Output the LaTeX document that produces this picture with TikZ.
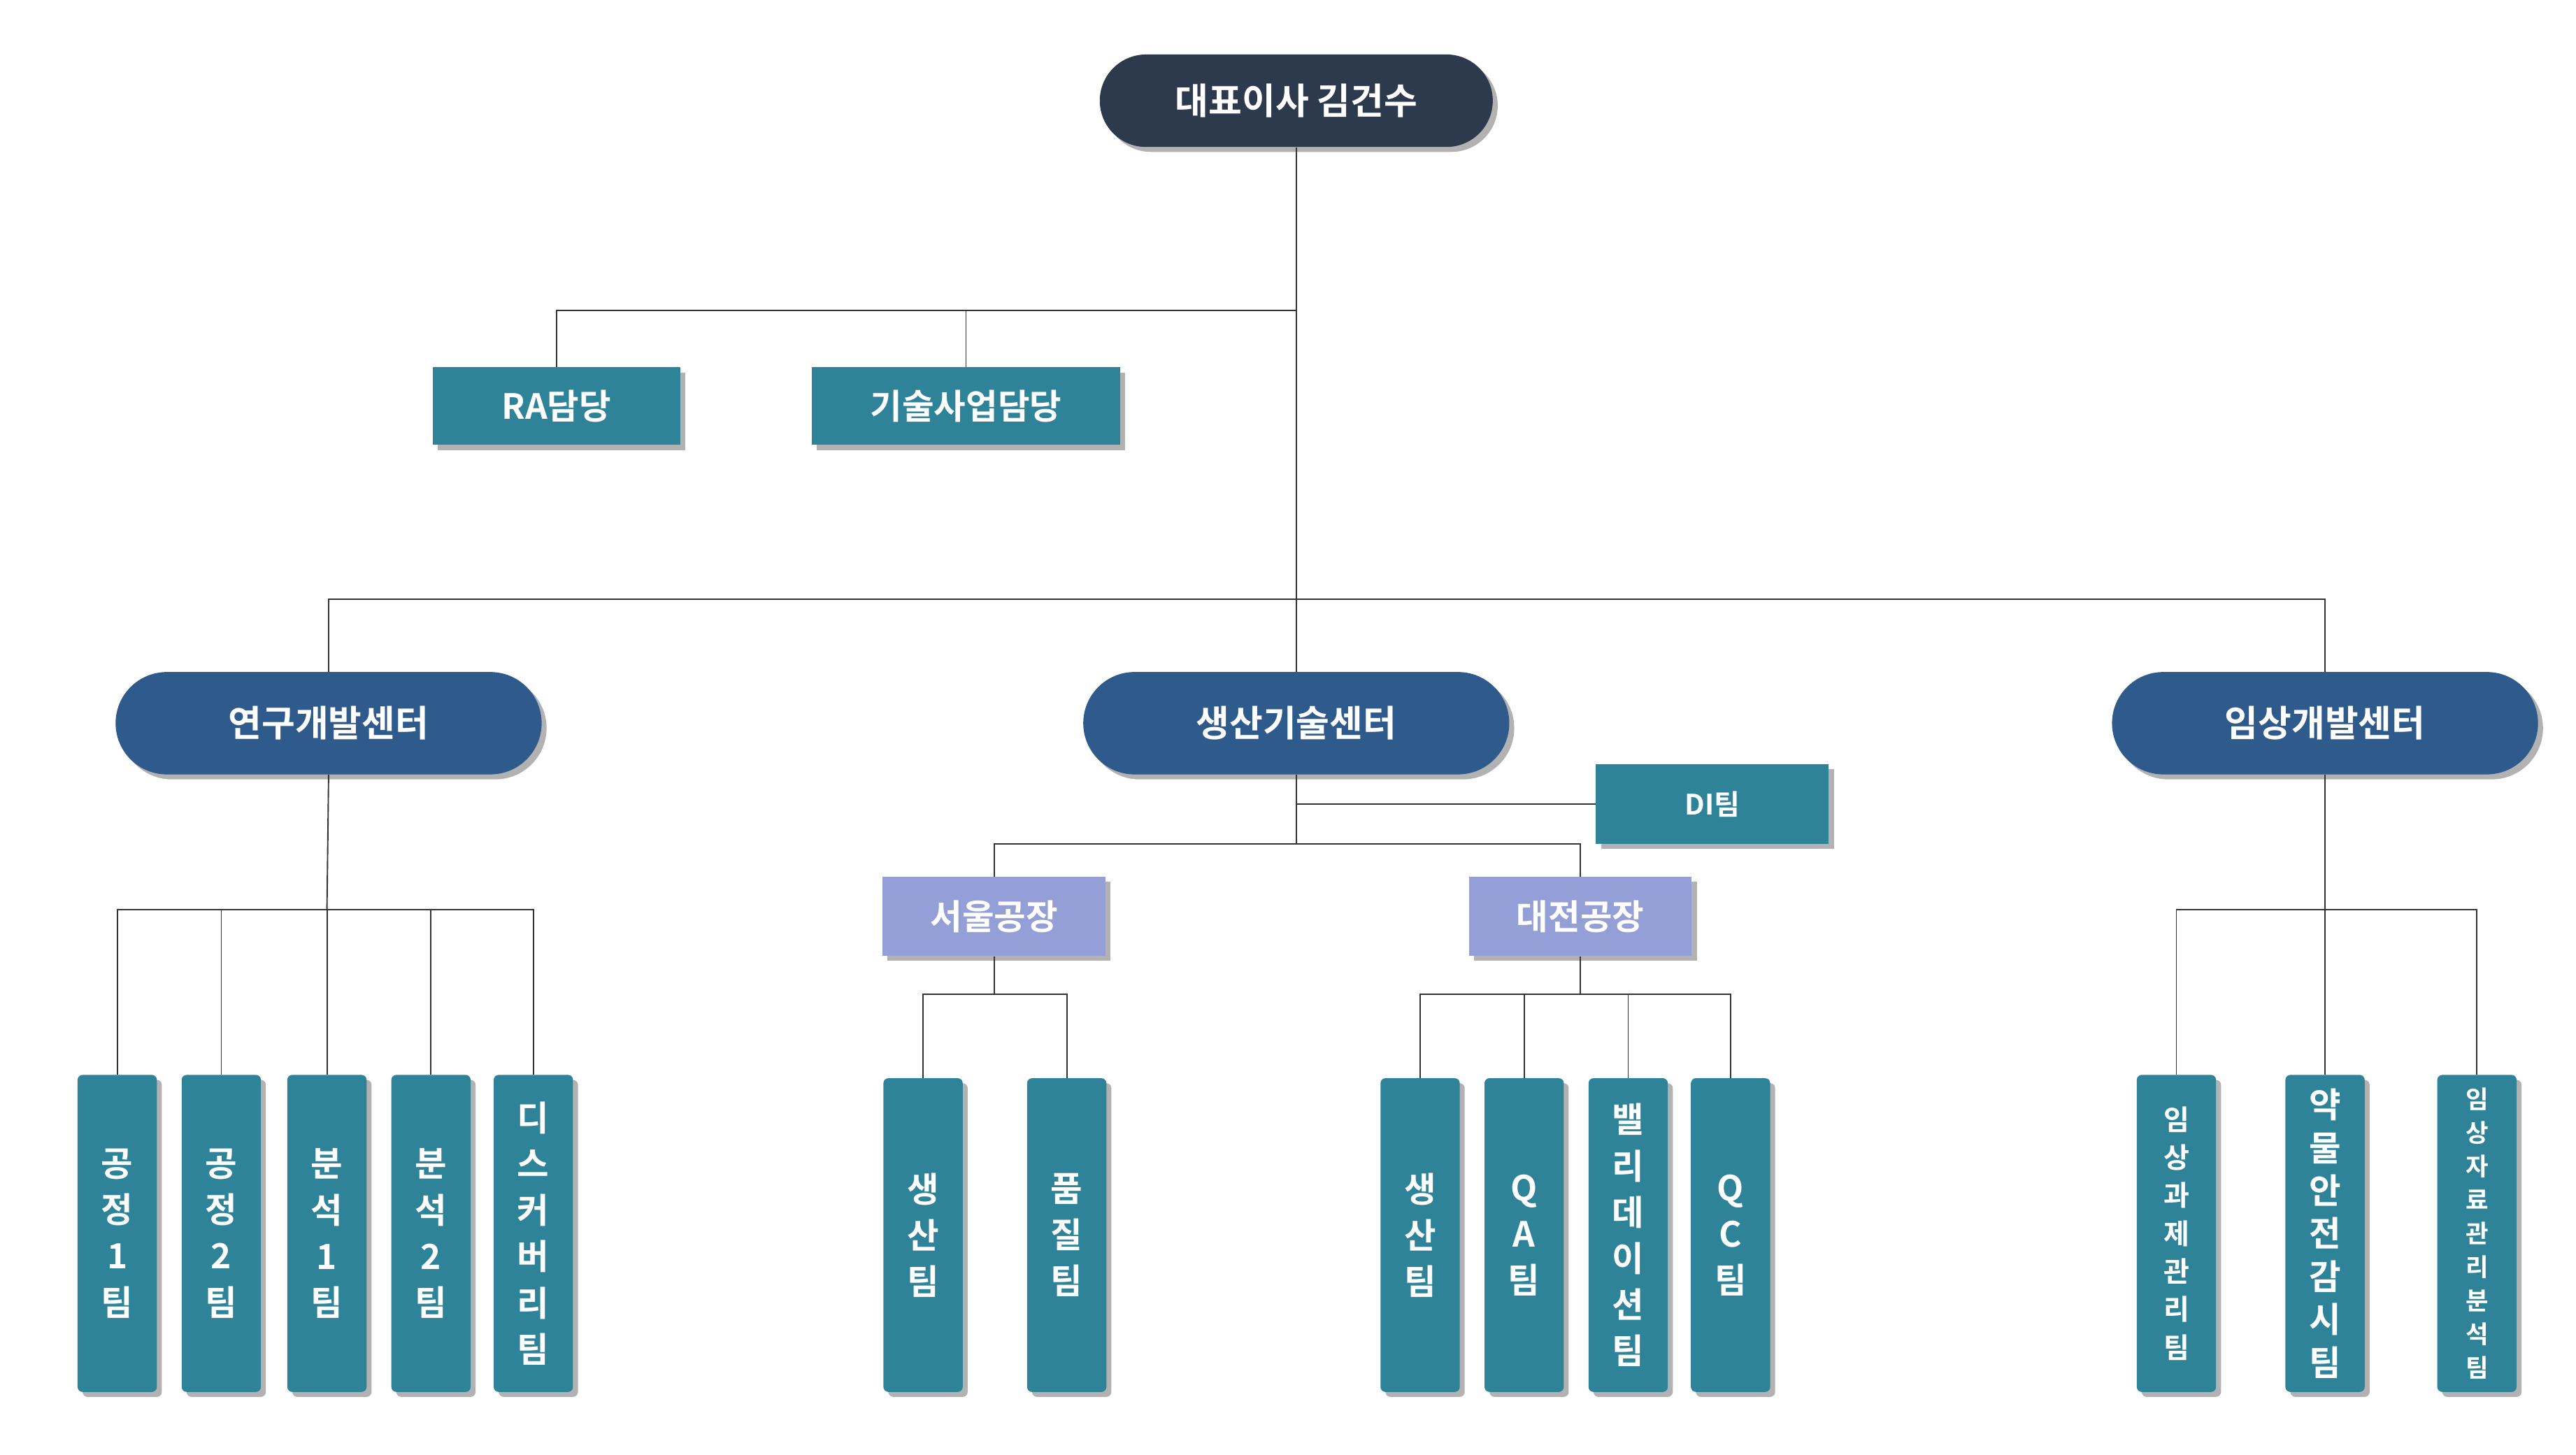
\documentclass[tikz,border=0pt]{standalone}
\usepackage{fontspec}
\setmainfont{Noto Sans CJK KR}[BoldFont={Noto Sans CJK KR Bold}]
\usetikzlibrary{shadows}
\definecolor{ceo}{HTML}{2D3A4E}
\definecolor{ctr}{HTML}{2F5A8C}
\definecolor{teal}{HTML}{2E8399}
\definecolor{lav}{HTML}{939FD6}
\tikzset{
 sh/.style={drop shadow={shadow xshift=3pt,shadow yshift=-3pt,fill=black,opacity=0.3}},
 pill/.style={sh,rounded corners=28pt,minimum height=56pt,text=white,font=\bfseries\fontsize{22}{26}\selectfont,inner sep=0},
 hbox/.style={sh,fill=teal,minimum height=47pt,text=white,font=\bfseries\fontsize{21}{25}\selectfont,inner sep=0},
 vbox/.style={sh,fill=teal,rounded corners=3pt,minimum width=48pt,minimum height=192pt,text=white,align=center,inner sep=0,font=\bfseries\fontsize{21}{28}\selectfont},
 ln/.style={draw=black!80,line width=0.8pt}
}
\begin{document}
\begin{tikzpicture}[x=1pt,y=-1pt]
\useasboundingbox (0,0) rectangle (1560,881);
\node[pill,fill=ceo,minimum width=238pt] (ceo) at (785,61) {대표이사 김건수};
\node[hbox,minimum width=150pt] (ra) at (337,246) {RA담당};
\node[hbox,minimum width=187pt] (tech) at (585,246) {기술사업담당};
\node[pill,fill=ctr,minimum width=258pt,minimum height=62pt,rounded corners=31pt] (c1) at (199,438) {연구개발센터};
\node[pill,fill=ctr,minimum width=258pt,minimum height=62pt,rounded corners=31pt] (c2) at (785,438) {생산기술센터};
\node[pill,fill=ctr,minimum width=258pt,minimum height=62pt,rounded corners=31pt] (c3) at (1408,438) {임상개발센터};
\node[hbox,minimum width=141pt,minimum height=48pt,font=\bfseries\fontsize{17}{20}\selectfont] (di) at (1037,487) {DI팀};
\node[hbox,fill=lav,minimum width=135pt,minimum height=48pt] (seoul) at (602,555) {서울공장};
\node[hbox,fill=lav,minimum width=135pt,minimum height=48pt] (daejeon) at (957,555) {대전공장};
% vertical boxes
\node[vbox] (a1) at (71,747) {공\\정\\1\\팀};
\node[vbox] (a2) at (134,747) {공\\정\\2\\팀};
\node[vbox] (a3) at (198,747) {분\\석\\1\\팀};
\node[vbox] (a4) at (261,747) {분\\석\\2\\팀};
\node[vbox] (a5) at (323,747) {디\\스\\커\\버\\리\\팀};
\node[vbox,minimum height=190pt] (s1) at (559,748) {생\\산\\팀};
\node[vbox,minimum height=190pt] (s2) at (646,748) {품\\질\\팀};
\node[vbox,minimum height=190pt] (d1) at (860,748) {생\\산\\팀};
\node[vbox,minimum height=190pt] (d2) at (923,748) {Q\\A\\팀};
\node[vbox,minimum height=190pt] (d3) at (986,748) {밸\\리\\데\\이\\션\\팀};
\node[vbox,minimum height=190pt] (d4) at (1048,748) {Q\\C\\팀};
\node[vbox,font=\bfseries\fontsize{17}{23}\selectfont] (k1) at (1318,747) {임\\상\\과\\제\\관\\리\\팀};
\node[vbox,font=\bfseries\fontsize{21}{26}\selectfont] (k2) at (1408,747) {약\\물\\안\\전\\감\\시\\팀};
\node[vbox,font=\bfseries\fontsize{15}{20.3}\selectfont] (k3) at (1500,747) {임\\상\\자\\료\\관\\리\\분\\석\\팀};
% connectors
\begin{scope}[on background layer/.style={}]
\draw[ln] (ceo.south) -- (c2.north);
\draw[ln] (785,188) -| (ra.north);
\draw[ln] (785,188) -| (tech.north);
\draw[ln] (785,363) -| (c1.north);
\draw[ln] (785,363) -| (c3.north);
\draw[ln] (c2.south) -- (785,511);
\draw[ln] (785,487) -- (di.west);
\draw[ln] (785,511) -| (seoul.north);
\draw[ln] (785,511) -| (daejeon.north);
\draw[ln] (c1.south) -- (198,551);
\foreach \n in {a1,a2,a3,a4,a5} \draw[ln] (198,551) -| (\n.north);
\draw[ln] (seoul.south) -- (602,602);
\foreach \n in {s1,s2} \draw[ln] (602,602) -| (\n.north);
\draw[ln] (daejeon.south) -- (957,602);
\foreach \n in {d1,d2,d3,d4} \draw[ln] (957,602) -| (\n.north);
\draw[ln] (c3.south) -- (1408,551);
\foreach \n in {k1,k2,k3} \draw[ln] (1408,551) -| (\n.north);
\end{scope}
\end{tikzpicture}
\end{document}
